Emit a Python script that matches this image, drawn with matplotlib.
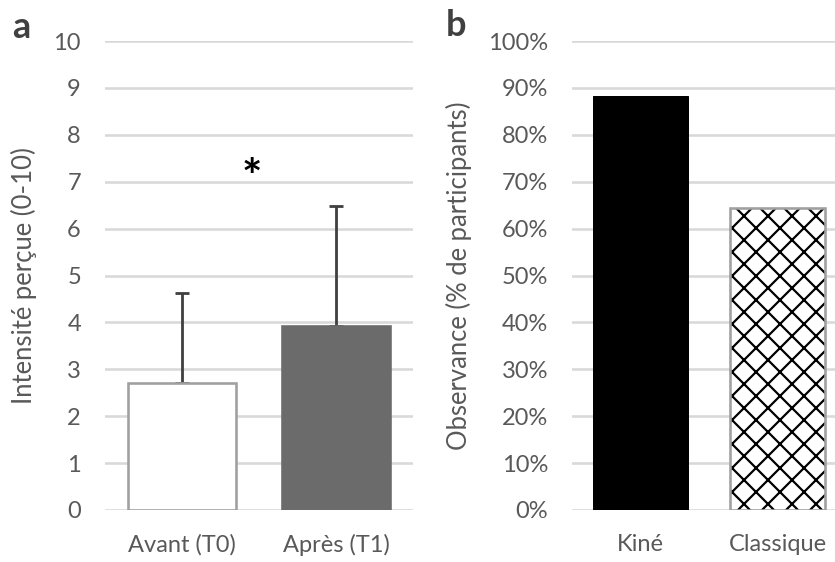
import numpy as np
import matplotlib
matplotlib.use('Agg')
import matplotlib.pyplot as plt

# data
temps = ['Avant (T0)', 'Après (T1)']
intensite = [2.71, 3.92]
intensite_sd = [1.92, 2.56]

groupes = ['Kiné', 'Classique']
observance = [88.3, 64.4]

DPI = 144
W, H = 835, 562
plt.rcParams['font.family'] = ['Lato', 'DejaVu Sans']
plt.rcParams['hatch.linewidth'] = 1.1

txt = '#595959'
grid = '#d9d9d9'

fig = plt.figure(figsize=(W / DPI, H / DPI), dpi=DPI)


def px_axes(x0, x1, y_top, y_bot):
    return fig.add_axes([x0 / W, (H - y_bot) / H, (x1 - x0) / W, (y_bot - y_top) / H])


def style(ax):
    for s in ax.spines.values():
        s.set_visible(False)
    ax.yaxis.grid(True, color=grid, linewidth=1.3)
    ax.set_axisbelow(True)
    ax.tick_params(length=0, labelsize=11.8, labelcolor=txt)
    ax.tick_params(axis='y', pad=12)
    ax.tick_params(axis='x', pad=12)


# panel a
ax1 = px_axes(105, 413, 41, 510)
x = np.arange(len(temps))
ax1.bar(x, intensite, width=0.7, color=['white', '#6b6b6b'],
        edgecolor=['#a0a0a0', '#6b6b6b'], linewidth=1.3, zorder=2)
# errorbars sit behind the bars so only the upper half shows
ax1.errorbar(x, intensite, yerr=[np.zeros(len(x)), intensite_sd], fmt='none',
             ecolor='#404040', elinewidth=1.4, capsize=3.5, capthick=1.4, zorder=1.9)
ax1.set_xlim(-0.5, 1.5)
ax1.set_ylim(0, 10)
ax1.set_yticks(range(0, 11))
ax1.set_xticks(x)
ax1.set_xticklabels(temps)
ax1.set_ylabel('Intensité perçue (0-10)', fontsize=12.8, color=txt, labelpad=8)
style(ax1)
ax1.text(0.45, 7.05, '*', ha='center', va='center', fontsize=24,
         fontweight='bold', color='black')
fig.text(12 / W, 1 - 28 / H, 'a', fontsize=18, fontweight='bold',
         color='#404040', va='center')

# panel b
ax2 = px_axes(572, 835, 41, 510)
x2 = np.arange(len(groupes))
ax2.bar(x2[0], observance[0], width=0.7, color='black', edgecolor='black',
        linewidth=0.5, zorder=2)
# hatched fill in black, then the grey outline on top
ax2.bar(x2[1], observance[1], width=0.7, color='white', edgecolor='black',
        hatch='xx', linewidth=0, zorder=2)
ax2.bar(x2[1], observance[1], width=0.7, fill=False, edgecolor='#a0a0a0',
        linewidth=1.3, zorder=3)
ax2.set_xlim(-0.5, 1.42)
ax2.set_ylim(0, 100)
ax2.set_yticks(range(0, 101, 10))
ax2.set_yticklabels([f'{v}%' for v in range(0, 101, 10)])
ax2.set_xticks(x2)
ax2.set_xticklabels(groupes)
ax2.set_ylabel('Observance (% de participants)', fontsize=12.8, color=txt, labelpad=8)
style(ax2)
fig.text(446 / W, 1 - 26 / H, 'b', fontsize=18, fontweight='bold',
         color='#404040', va='center')

fig.savefig('out.png', dpi=DPI)
